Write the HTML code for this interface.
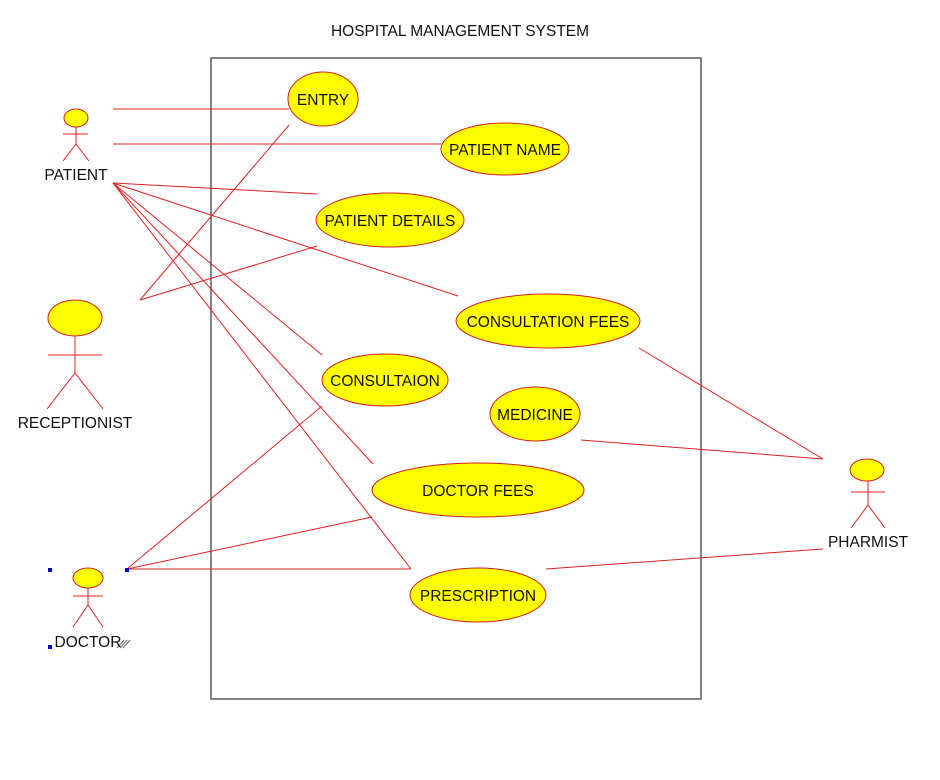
<!DOCTYPE html>
<html><head><meta charset="utf-8"><style>
html,body{margin:0;padding:0;background:#fff;}
svg{display:block;}
text{font-family:"Liberation Sans",Arial,sans-serif;fill:#111;}
</style></head><body>
<svg width="940" height="780" viewBox="0 0 940 780">
<text x="460" y="36" font-size="15.5" text-anchor="middle">HOSPITAL MANAGEMENT SYSTEM</text>
<rect x="211" y="58" width="490" height="641" fill="none" stroke="#333" stroke-width="1.2"/>
<g stroke="#e02020" stroke-width="1" fill="none">
<line x1="113" y1="109" x2="289" y2="109"/>
<line x1="113" y1="144" x2="441" y2="144"/>
<line x1="113" y1="183" x2="317" y2="194"/>
<line x1="113" y1="183" x2="458" y2="296"/>
<line x1="113" y1="183" x2="322" y2="355"/>
<line x1="113" y1="183" x2="373" y2="464"/>
<line x1="113" y1="183" x2="411" y2="569"/>
<line x1="140" y1="300" x2="289" y2="125"/>
<line x1="140" y1="300" x2="317" y2="246"/>
<line x1="127" y1="569" x2="322" y2="406"/>
<line x1="127" y1="569" x2="372" y2="517"/>
<line x1="127" y1="569" x2="411" y2="569"/>
<line x1="823" y1="459" x2="639" y2="348"/>
<line x1="823" y1="459" x2="581" y2="440"/>
<line x1="823" y1="549" x2="546" y2="569"/>
<line x1="76" y1="127" x2="76" y2="144"/><line x1="63" y1="134" x2="88" y2="134"/>
<line x1="76" y1="144" x2="63" y2="161"/><line x1="76" y1="144" x2="89" y2="161"/>
<line x1="75" y1="336" x2="75" y2="373"/><line x1="48" y1="355" x2="102" y2="355"/>
<line x1="75" y1="373" x2="47" y2="409"/><line x1="75" y1="373" x2="103" y2="409"/>
<line x1="88" y1="587" x2="88" y2="605"/><line x1="73" y1="596" x2="103" y2="596"/>
<line x1="88" y1="605" x2="73" y2="627"/><line x1="88" y1="605" x2="103" y2="627"/>
<line x1="868" y1="481" x2="868" y2="505"/><line x1="851" y1="492" x2="885" y2="492"/>
<line x1="868" y1="505" x2="851" y2="528"/><line x1="868" y1="505" x2="885" y2="528"/>
</g>
<g fill="#ffff00" stroke="#d02020" stroke-width="1">
<ellipse cx="76" cy="118" rx="12" ry="9"/>
<ellipse cx="75" cy="318" rx="27" ry="18"/>
<ellipse cx="88" cy="578" rx="15" ry="10"/>
<ellipse cx="867" cy="470" rx="17" ry="11"/>
<ellipse cx="323" cy="99" rx="35" ry="27"/>
<ellipse cx="505" cy="149" rx="64" ry="26"/>
<ellipse cx="390" cy="220" rx="74" ry="27"/>
<ellipse cx="548" cy="321" rx="92" ry="27"/>
<ellipse cx="385" cy="380" rx="63" ry="26"/>
<ellipse cx="535" cy="414" rx="45" ry="27"/>
<ellipse cx="478" cy="490" rx="106" ry="27"/>
<ellipse cx="478" cy="595" rx="68" ry="27"/>
</g>
<g fill="#0000cc"><rect x="48" y="568" width="4" height="4"/><rect x="125" y="568" width="4" height="4"/><rect x="48" y="645" width="4" height="4"/></g>
<g stroke="#666" stroke-width="1"><line x1="117" y1="648" x2="124" y2="640"/><line x1="120" y1="648" x2="127" y2="640"/><line x1="123" y1="648" x2="130" y2="640"/></g>
<g font-size="15.5" text-anchor="middle">
<text x="323" y="105">ENTRY</text>
<text x="505" y="155">PATIENT NAME</text>
<text x="390" y="226">PATIENT DETAILS</text>
<text x="548" y="327">CONSULTATION FEES</text>
<text x="385" y="386">CONSULTAION</text>
<text x="535" y="420">MEDICINE</text>
<text x="478" y="496">DOCTOR FEES</text>
<text x="478" y="601">PRESCRIPTION</text>
<text x="76" y="180">PATIENT</text>
<text x="75" y="428">RECEPTIONIST</text>
<text x="88" y="647">DOCTOR</text>
<text x="868" y="547">PHARMIST</text>
</g>
</svg>
</body></html>
